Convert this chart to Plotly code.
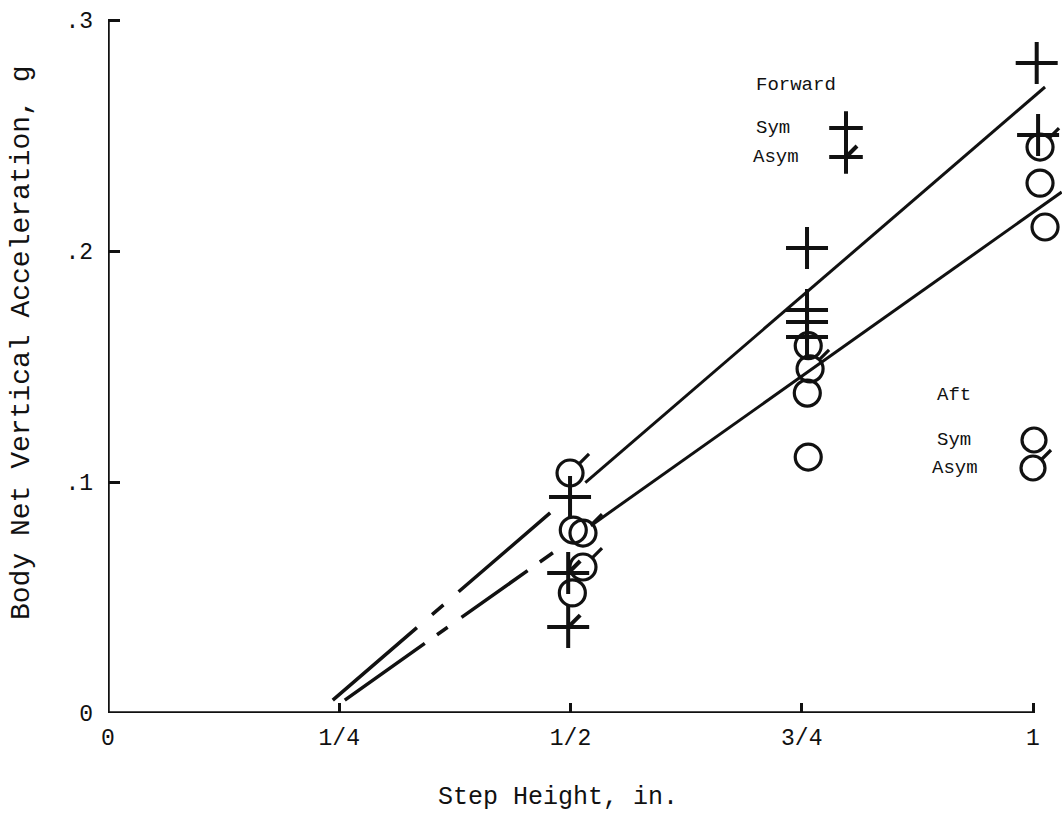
import plotly.graph_objects as go

# ---------------- data ----------------
fwd_sym_x = [0.4995, 0.7557, 0.7557, 0.7557, 0.7557, 1.004, 1.0055]
fwd_sym_y = [0.0935, 0.2013, 0.1745, 0.1693, 0.1628, 0.2814, 0.2502]

fwd_asym_x = [0.4975, 0.4975]
fwd_asym_y = [0.0606, 0.0372]

aft_sym_x = [0.503, 0.502, 0.757, 0.756, 0.757, 1.0076, 1.013]
aft_sym_y = [0.0792, 0.0520, 0.1590, 0.1385, 0.1108, 0.2294, 0.2104]

aft_asym_x = [0.4995, 0.5135, 0.5135, 0.759, 1.0076]
aft_asym_y = [0.1039, 0.0779, 0.0632, 0.1490, 0.2450]

# fitted lines (dashed extrapolation + solid part)
fwd_dash_x = [0.243, 0.478]
fwd_dash_y = [0.0056, 0.0866]
fwd_solid_x = [0.516, 1.013]
fwd_solid_y = [0.0997, 0.2710]

aft_dash_x = [0.256, 0.481]
aft_dash_y = [0.0056, 0.0694]
aft_solid_x = [0.522, 1.031]
aft_solid_y = [0.0811, 0.2255]

x_tick_vals = [0, 0.25, 0.5, 0.75, 1]
x_tick_text = ["0", "1/4", "1/2", "3/4", "1"]
y_tick_vals = [0, 0.1, 0.2, 0.3]
y_tick_text = ["0", ".1", ".2", ".3"]

# ---------------- layout constants ----------------
W, H = 1062, 821
L, B = 108, 108
PX_X = 925.0          # pixels per x unit
PX_Y = 2310.0         # pixels per y unit
XMAX = (W - L) / PX_X
YMAX = (H - B) / PX_Y
INK = "#111111"
FONT = "Liberation Mono"


def px2data(px, py):
    return (px - L) / PX_X, (H - B - py) / PX_Y


def px2paper(px, py):
    return (px - L) / (W - L), (H - B - py) / (H - B)


def tails(xs, ys, d0, d1):
    """short diagonal strokes (up-right) attached to markers, in px offsets"""
    tx, ty = [], []
    for x, y in zip(xs, ys):
        tx += [x + d0 / PX_X, x + d1 / PX_X, None]
        ty += [y + d0 / PX_Y, y + d1 / PX_Y, None]
    return tx, ty


fig = go.Figure()

# lines
fig.add_trace(go.Scatter(x=fwd_dash_x, y=fwd_dash_y, mode="lines",
                         line=dict(color=INK, width=3.5, dash="111px,20px,15px,20px,125px,100px")))
fig.add_trace(go.Scatter(x=fwd_solid_x, y=fwd_solid_y, mode="lines",
                         line=dict(color=INK, width=3)))
fig.add_trace(go.Scatter(x=aft_dash_x, y=aft_dash_y, mode="lines",
                         line=dict(color=INK, width=3.5, dash="98px,15px,13px,17px,81px,15px,16px,100px")))
fig.add_trace(go.Scatter(x=aft_solid_x, y=aft_solid_y, mode="lines",
                         line=dict(color=INK, width=3)))

circle_marker = dict(symbol="circle-open", size=26, color=INK, line=dict(width=3.2, color=INK))
plus_marker = dict(symbol="cross-thin-open", size=30, color=INK, line=dict(width=4, color=INK))
plus_key = dict(symbol="cross-thin-open", size=24, color=INK, line=dict(width=4, color=INK))
circle_key = dict(symbol="circle-open", size=24, color=INK, line=dict(width=3.2, color=INK))

# Aft sym / asym circles
fig.add_trace(go.Scatter(x=aft_sym_x, y=aft_sym_y, mode="markers", marker=circle_marker))
fig.add_trace(go.Scatter(x=aft_asym_x, y=aft_asym_y, mode="markers", marker=circle_marker))
tx, ty = tails(aft_asym_x, aft_asym_y, 9.5, 19)
fig.add_trace(go.Scatter(x=tx, y=ty, mode="lines", line=dict(color=INK, width=3.2)))

# Forward sym / asym pluses
fig.add_trace(go.Scatter(x=fwd_sym_x, y=fwd_sym_y, mode="markers", marker=plus_marker))
fig.add_trace(go.Scatter(x=fwd_asym_x, y=fwd_asym_y, mode="markers", marker=plus_marker))
tx, ty = tails(fwd_asym_x, fwd_asym_y, 0, 12)
fig.add_trace(go.Scatter(x=tx, y=ty, mode="lines", line=dict(color=INK, width=4)))

# legend key symbols
lx, ly = px2data(846, 128)
fig.add_trace(go.Scatter(x=[lx], y=[ly], mode="markers", marker=plus_key))
lx, ly = px2data(846, 157)
fig.add_trace(go.Scatter(x=[lx], y=[ly], mode="markers", marker=plus_key))
tx, ty = tails([lx], [ly], 0, 11)
fig.add_trace(go.Scatter(x=tx, y=ty, mode="lines", line=dict(color=INK, width=4)))
lx, ly = px2data(1034, 440)
fig.add_trace(go.Scatter(x=[lx], y=[ly], mode="markers", marker=circle_key))
lx, ly = px2data(1033, 468)
fig.add_trace(go.Scatter(x=[lx], y=[ly], mode="markers", marker=circle_key))
tx, ty = tails([lx], [ly], 9, 18)
fig.add_trace(go.Scatter(x=tx, y=ty, mode="lines", line=dict(color=INK, width=3.2)))

for tr in fig.data:
    tr.update(showlegend=False, hoverinfo="skip", cliponaxis=False)

# axis lines
fig.add_shape(type="line", x0=0, x1=1, y0=0, y1=0, xref="x", yref="y",
              line=dict(color=INK, width=3.5))
fig.add_shape(type="line", x0=0, x1=0, y0=0, y1=0.3, xref="x", yref="y",
              line=dict(color=INK, width=3.5))

ann_font = dict(family=FONT, size=19, color=INK)
texts = [
    ("Forward", 754, 85),
    ("Sym", 754, 128),
    ("Asym", 751, 157),
    ("Aft", 935, 395),
    ("Sym", 935, 440),
    ("Asym", 930, 468),
]
for t, px, py in texts:
    ax_, ay_ = px2paper(px, py)
    fig.add_annotation(text=t, x=ax_, y=ay_, xref="paper", yref="paper",
                       xanchor="left", yanchor="middle", showarrow=False, font=ann_font)

tx_, ty_ = px2paper(558, 797)
fig.add_annotation(text="Step Height, in.", x=tx_, y=ty_, xref="paper", yref="paper",
                   xanchor="center", yanchor="middle", showarrow=False,
                   font=dict(family=FONT, size=25, color=INK))
tx_, ty_ = px2paper(22, 343)
fig.add_annotation(text="Body Net Vertical Acceleration, g", x=tx_, y=ty_,
                   xref="paper", yref="paper", textangle=-90,
                   xanchor="center", yanchor="middle", showarrow=False,
                   font=dict(family=FONT, size=28, color=INK))

fig.update_layout(
    width=W, height=H,
    margin=dict(l=L, r=0, t=0, b=B),
    paper_bgcolor="white", plot_bgcolor="white",
    xaxis=dict(range=[0, XMAX], domain=[0, 1], tickvals=x_tick_vals, ticktext=x_tick_text,
               ticks="inside", ticklen=10, tickwidth=3, tickcolor=INK,
               showgrid=False, zeroline=False, showline=False,
               tickfont=dict(family=FONT, size=23, color=INK), ticklabelstandoff=8),
    yaxis=dict(range=[0, YMAX], domain=[0, 1], tickvals=y_tick_vals, ticktext=y_tick_text,
               ticks="inside", ticklen=12, tickwidth=3, tickcolor=INK,
               showgrid=False, zeroline=False, showline=False,
               tickfont=dict(family=FONT, size=23, color=INK), ticklabelstandoff=14),
)

fig.write_html("out.html")
